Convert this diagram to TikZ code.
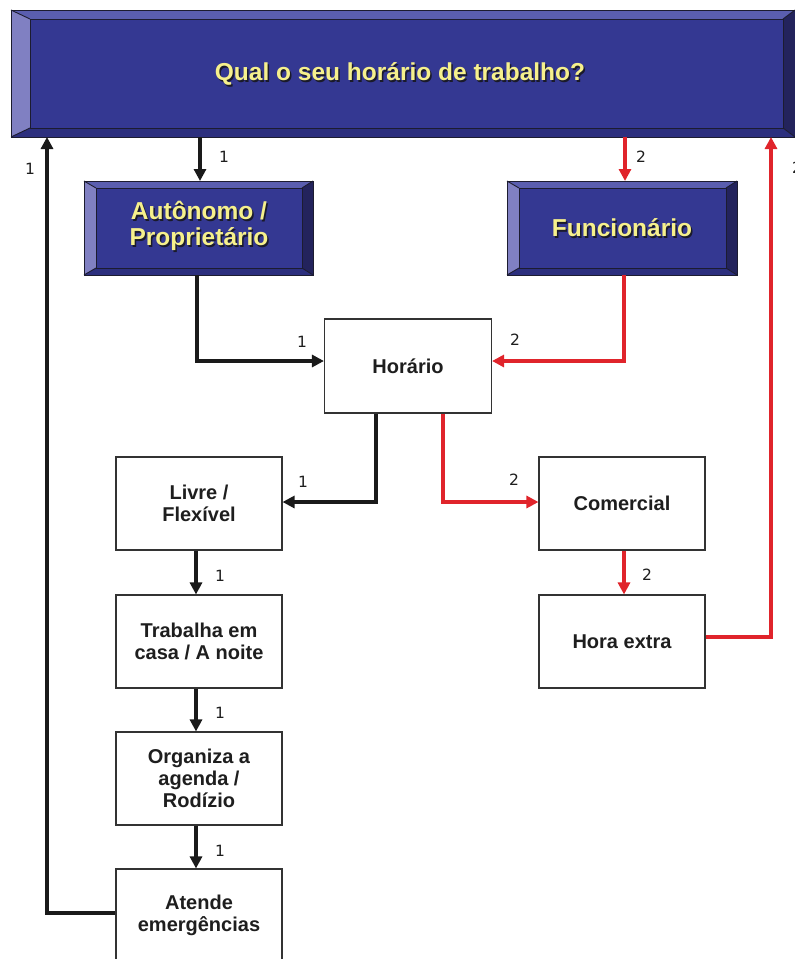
\documentclass[tikz,border=0pt]{standalone}
\usepackage{fontspec}
\setmainfont{Liberation Sans}
\newfontfamily\lblfont{DejaVu Sans}
\usetikzlibrary{arrows.meta}

\definecolor{face}{HTML}{343892}
\definecolor{bvtopc}{HTML}{5A5EAF}
\definecolor{bvleftc}{HTML}{8080C2}
\definecolor{bvrightc}{HTML}{23235C}
\definecolor{bvbotc}{HTML}{2C2F7E}
\definecolor{bvedge}{HTML}{1C1C30}
\definecolor{ytxt}{HTML}{F6F08C}
\definecolor{ytshade}{HTML}{1A1A2A}
\definecolor{boxedge}{HTML}{333333}
\definecolor{txt}{HTML}{1E1E1E}
\definecolor{blkline}{HTML}{1A1A1A}
\definecolor{redc}{HTML}{E0242B}

\tikzset{
  wbox/.style={draw=boxedge, line width=1.1pt, fill=white, minimum width=166pt,
    minimum height=93pt, inner sep=0pt, align=center, text=txt,
    font=\fontsize{20}{22}\selectfont\bfseries},
  blkline/.style={line width=3.4pt, draw=blkline, -{Triangle[length=12pt,width=12pt]}},
  redline/.style={line width=3.4pt, draw=redc, -{Triangle[length=12pt,width=12pt]}},
  lbl/.style={font=\lblfont\fontsize{15.5}{15.5}\selectfont, text=txt, inner sep=0pt},
  ytext/.style={align=center, text=ytxt, inner sep=0pt,
    font=\fontsize{24.5}{26}\selectfont\bfseries},
  yshade/.style={ytext, text=ytshade},
  bvline/.style={draw=bvedge, line width=0.9pt, line join=miter}
}

% bevelled box: name, x1, y1, x2, y2 (outer), bevel left, top, right, bottom
\newcommand\bevelbox[9]{%
  \fill[bvtopc] (#2,#3) -- (#4,#3) -- (#4-#8,#3+#7) -- (#2+#6,#3+#7) -- cycle;
  \fill[bvleftc] (#2,#3) -- (#2+#6,#3+#7) -- (#2+#6,#5-#9) -- (#2,#5) -- cycle;
  \fill[bvrightc] (#4,#3) -- (#4,#5) -- (#4-#8,#5-#9) -- (#4-#8,#3+#7) -- cycle;
  \fill[bvbotc] (#2,#5) -- (#2+#6,#5-#9) -- (#4-#8,#5-#9) -- (#4,#5) -- cycle;
  \fill[face] (#2+#6,#3+#7) rectangle (#4-#8,#5-#9);
  \draw[bvline] (#2+#6,#3+#7) rectangle (#4-#8,#5-#9);
  \draw[bvline] (#2,#3) -- (#2+#6,#3+#7) (#4,#3) -- (#4-#8,#3+#7)
                (#2,#5) -- (#2+#6,#5-#9) (#4,#5) -- (#4-#8,#5-#9);
  \draw[bvline] (#2,#3) rectangle (#4,#5);
  \node[inner sep=0pt, outer sep=0pt, minimum width={(#4-#2)*1pt},
        minimum height={(#5-#3)*1pt}] (#1) at ({(#2+#4)/2},{(#3+#5)/2}) {};
}
% yellow caption with a dark drop shadow
\newcommand\ycaption[3][]{%
  \node[yshade,#1] at ([xshift=1.5pt,yshift=-1.5pt]#2) {#3};
  \node[ytext,#1] at (#2) {#3};
}

\begin{document}
\begin{tikzpicture}[x=1pt,y=-1pt]
\useasboundingbox (0,0) rectangle (795,959);

% header and the two categories
\bevelbox{top}{11}{10}{795}{137}{19}{9}{12}{9}
\bevelbox{aut}{84}{181}{313}{275}{12}{7}{11}{7}
\bevelbox{func}{507}{181}{737}{275}{12}{7}{11}{7}

\coordinate (tt) at (400,74);
\ycaption{tt}{Qual o seu horário de trabalho?}
\coordinate (at) at (199,226);
\ycaption{at}{Autônomo /\\Proprietário}
\coordinate (ft) at (622,228);
\ycaption{ft}{Funcionário}

% white step boxes
\node[wbox, minimum width=167pt, minimum height=94pt] (hor) at (408,366) {Horário};
\node[wbox] (livre) at (199,503.5) {Livre /\\Flexível};
\node[wbox] (com) at (622,503.5) {Comercial};
\node[wbox] (trab) at (199,641.5) {Trabalha em\\casa / A noite};
\node[wbox] (hx) at (622,641.5) {Hora extra};
\node[wbox] (org) at (199,778.5) {Organiza a\\agenda /\\Rodízio};
\node[wbox] (atd) at (199,915.5) {Atende\\emergências};

% path 1 (black)
\draw[blkline] (top.south -| 200,0) -- (aut.north -| 200,0);
\draw[blkline] ([xshift=-1.5pt]aut.south) |- ([yshift=5pt]hor.west);
\draw[blkline] ([xshift=-32pt]hor.south) |- ([yshift=1.5pt]livre.east);
\draw[blkline] ([xshift=-3pt]livre.south) -- ([xshift=-3pt]trab.north);
\draw[blkline] ([xshift=-3pt]trab.south) -- ([xshift=-3pt]org.north);
\draw[blkline] ([xshift=-3pt]org.south) -- ([xshift=-3pt]atd.north);
\draw[blkline] ([yshift=2.5pt]atd.west) -| ([xshift=36pt]top.south west);

% path 2 (red)
\draw[redline] (top.south -| 625,0) -- (func.north -| 625,0);
\draw[redline] ([xshift=2pt]func.south) |- ([yshift=5pt]hor.east);
\draw[redline] ([xshift=35pt]hor.south) |- ([yshift=1.5pt]com.west);
\draw[redline] ([xshift=2pt]com.south) -- ([xshift=2pt]hx.north);
\draw[redline] ([yshift=4.5pt]hx.east) -| ([xshift=-24pt]top.south east);

% connector labels
\node[lbl] (n1) at (224,157) {1};
\node[lbl] (n2) at (641,157) {2};
\node[lbl] (n3) at (30,169) {1};
\node[lbl] (n4) at (797,168) {2};
\node[lbl] (n5) at (302,342) {1};
\node[lbl] (n6) at (515,340) {2};
\node[lbl] (n7) at (303,482) {1};
\node[lbl] (n8) at (514,480) {2};
\node[lbl] (n9) at (220,576) {1};
\node[lbl] (n10) at (647,575) {2};
\node[lbl] (n11) at (220,713) {1};
\node[lbl] (n12) at (220,851) {1};
\end{tikzpicture}
\end{document}
